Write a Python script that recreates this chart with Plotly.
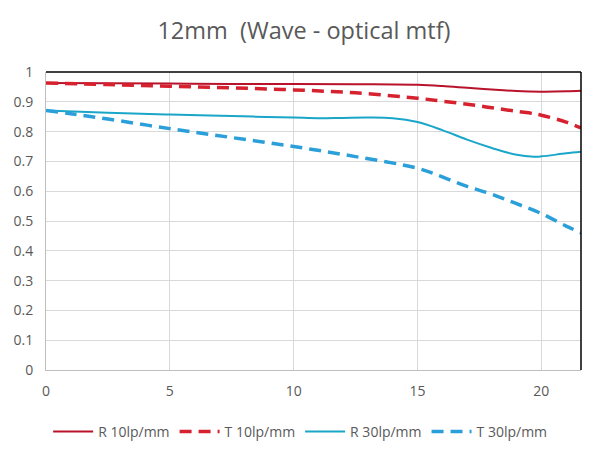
import plotly.graph_objects as go

r10_x = [0, 2.5, 5, 7.5, 10, 12.5, 15, 16, 17, 18, 19, 20, 21, 21.6]
r10_y = [0.963, 0.962, 0.961, 0.960, 0.960, 0.959, 0.957, 0.953, 0.947, 0.941, 0.936, 0.934, 0.935, 0.937]

t10_x = [0, 2.5, 5, 7.5, 10, 12.5, 15, 16, 17, 18, 19, 19.7, 20, 21, 21.6]
t10_y = [0.963, 0.958, 0.952, 0.947, 0.940, 0.930, 0.912, 0.902, 0.892, 0.880, 0.868, 0.860, 0.855, 0.832, 0.812]

r30_x = [0, 2.5, 5, 7.5, 10, 11, 12, 13, 14, 15, 16, 17, 18, 19, 19.7, 20, 21, 21.6]
r30_y = [0.871, 0.863, 0.857, 0.852, 0.847, 0.845, 0.846, 0.847, 0.845, 0.832, 0.805, 0.773, 0.745, 0.722, 0.716, 0.717, 0.727, 0.732]

t30_x = [0, 1, 2.5, 5, 7.5, 10, 12.5, 15, 16, 17, 18, 19, 20, 21, 21.6]
t30_y = [0.871, 0.860, 0.842, 0.810, 0.780, 0.750, 0.716, 0.677, 0.648, 0.616, 0.590, 0.558, 0.525, 0.483, 0.460]

x_ticks = [0, 5, 10, 15, 20]
y_ticks = [0, 0.1, 0.2, 0.3, 0.4, 0.5, 0.6, 0.7, 0.8, 0.9, 1]
y_labels = ["0", "0.1", "0.2", "0.3", "0.4", "0.5", "0.6", "0.7", "0.8", "0.9", "1"]

fig = go.Figure()
fig.add_trace(go.Scatter(x=r10_x, y=r10_y, mode="lines", name="R 10lp/mm",
                         line=dict(color="#B8132B", width=2, shape="spline")))
fig.add_trace(go.Scatter(x=t10_x, y=t10_y, mode="lines", name="T 10lp/mm",
                         line=dict(color="#D6212F", width=3.5, dash="12px,7px", shape="spline")))
fig.add_trace(go.Scatter(x=r30_x, y=r30_y, mode="lines", name="R 30lp/mm",
                         line=dict(color="#1AA6C8", width=2, shape="spline")))
fig.add_trace(go.Scatter(x=t30_x, y=t30_y, mode="lines", name="T 30lp/mm",
                         line=dict(color="#2A9FDA", width=3.5, dash="12px,7px", shape="spline")))

fig.update_layout(
    width=592, height=452,
    margin=dict(l=38, r=19, t=64, b=90, autoexpand=False),
    paper_bgcolor="white", plot_bgcolor="white",
    font=dict(family="Open Sans", color="#595959", size=14),
    title=dict(text="12mm  (Wave - optical mtf)", x=0.5, xanchor="center", y=0.949, yanchor="middle",
               font=dict(size=23.5, color="#595959", family="Open Sans")),
    showlegend=True,
    legend=dict(orientation="h", x=0.475, xanchor="center", y=-0.208, yanchor="middle",
                font=dict(size=14, color="#595959"), itemwidth=40, tracegroupgap=0),
    xaxis=dict(range=[0, 21.6], tickvals=x_ticks, showgrid=True, gridcolor="#D9D9D9",
               showline=True, linecolor="#BFBFBF", zeroline=False, ticks="",
               ticklabelstandoff=8, fixedrange=True, automargin=False),
    yaxis=dict(range=[0, 1], tickvals=y_ticks, ticktext=y_labels, showgrid=True, gridcolor="#D9D9D9",
               showline=True, linecolor="#BFBFBF", zeroline=False, ticks="", ticklabelstandoff=9,
               automargin=False),
    shapes=[
        dict(type="line", xref="paper", yref="paper", x0=0, x1=1, y0=1, y1=1,
             line=dict(color="#000000", width=1.5)),
        dict(type="line", xref="paper", yref="paper", x0=1, x1=1, y0=0, y1=1,
             line=dict(color="#000000", width=1.5)),
    ],
)

fig.write_html("out.html")
